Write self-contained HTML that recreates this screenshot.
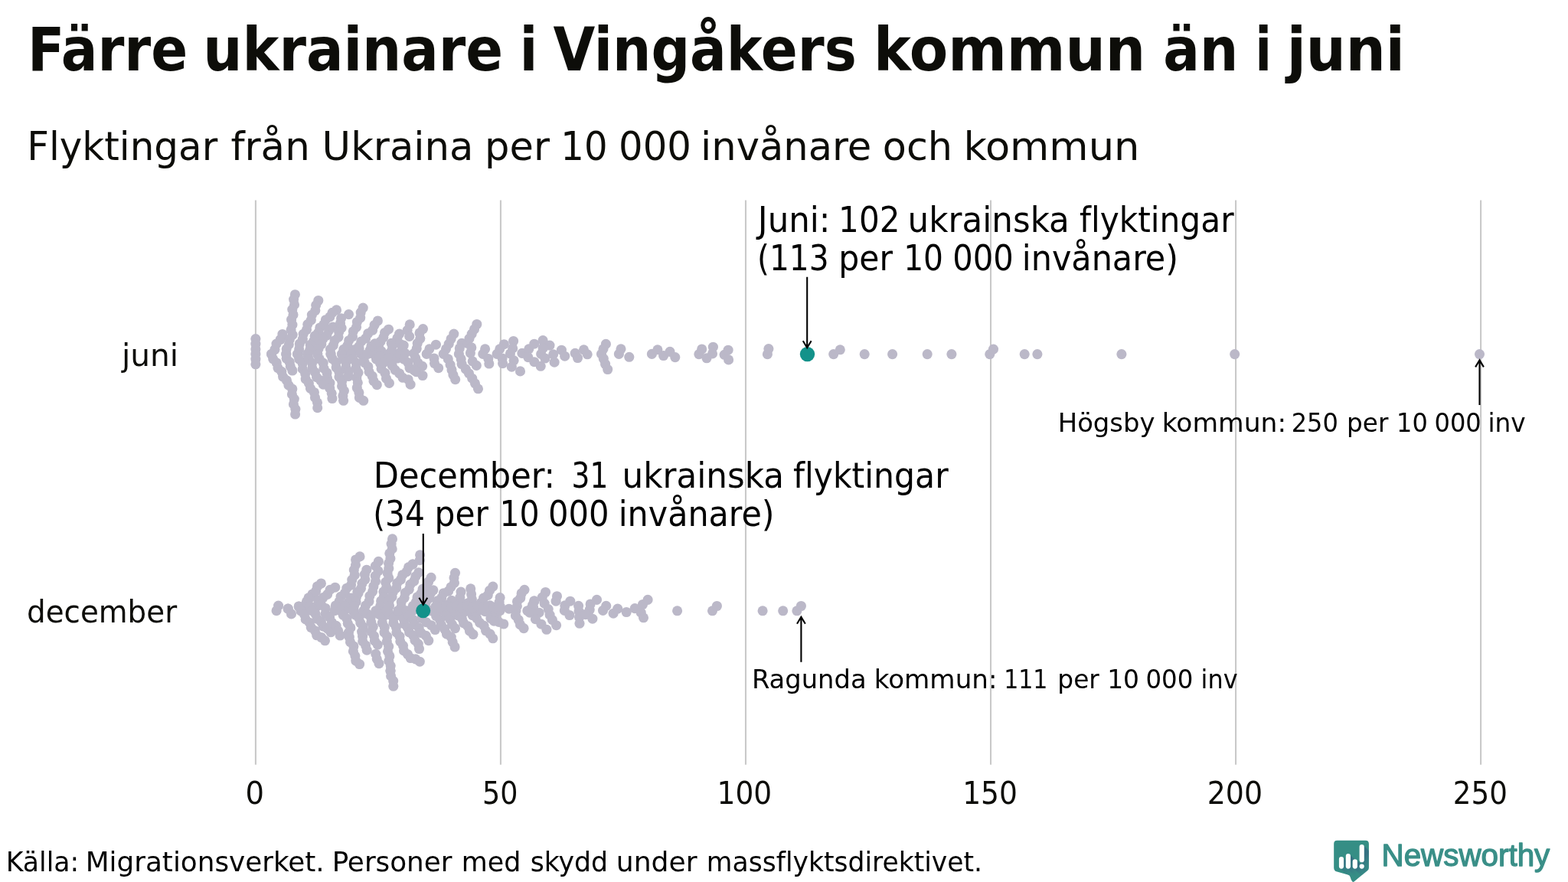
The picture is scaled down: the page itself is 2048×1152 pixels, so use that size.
<!DOCTYPE html>
<html lang="sv"><head><meta charset="utf-8"><title>Färre ukrainare i Vingåkers kommun än i juni</title>
<style>
html,body{margin:0;padding:0;background:#fff;}
body{width:2048px;height:1152px;overflow:hidden;}
svg{display:block;}
svg text{font-family:"DejaVu Sans Condensed","Liberation Sans",sans-serif;font-variant-ligatures:none;font-kerning:normal;}
</style></head>
<body>
<svg width="2048" height="1152" viewBox="0 0 2048 1152">
<rect width="2048" height="1152" fill="#fff"/>
<g stroke="#c9c9c9" stroke-width="2.1">
<line x1="333.90" x2="333.90" y1="261.5" y2="998.7"/>
<line x1="653.94" x2="653.94" y1="261.5" y2="998.7"/>
<line x1="973.98" x2="973.98" y1="261.5" y2="998.7"/>
<line x1="1294.02" x2="1294.02" y1="261.5" y2="998.7"/>
<line x1="1614.06" x2="1614.06" y1="261.5" y2="998.7"/>
<line x1="1934.10" x2="1934.10" y1="261.5" y2="998.7"/>
</g>
<g fill="#bbb8c8">
<circle cx="354.6" cy="462.5" r="6.55"/>
<circle cx="359.0" cy="456.5" r="6.55"/>
<circle cx="361.0" cy="449.1" r="6.55"/>
<circle cx="366.2" cy="443.5" r="6.55"/>
<circle cx="368.9" cy="436.5" r="6.55"/>
<circle cx="385.4" cy="384.7" r="6.55"/>
<circle cx="383.6" cy="391.1" r="6.55"/>
<circle cx="384.5" cy="397.9" r="6.55"/>
<circle cx="381.8" cy="404.2" r="6.55"/>
<circle cx="383.0" cy="411.0" r="6.55"/>
<circle cx="380.6" cy="417.5" r="6.55"/>
<circle cx="381.9" cy="424.2" r="6.55"/>
<circle cx="380.1" cy="430.8" r="6.55"/>
<circle cx="382.2" cy="437.3" r="6.55"/>
<circle cx="378.4" cy="443.1" r="6.55"/>
<circle cx="377.3" cy="449.9" r="6.55"/>
<circle cx="374.2" cy="455.8" r="6.55"/>
<circle cx="373.8" cy="462.5" r="6.55"/>
<circle cx="415.8" cy="392.5" r="6.55"/>
<circle cx="412.7" cy="398.6" r="6.55"/>
<circle cx="411.8" cy="405.6" r="6.55"/>
<circle cx="407.4" cy="411.2" r="6.55"/>
<circle cx="406.3" cy="418.2" r="6.55"/>
<circle cx="401.8" cy="423.6" r="6.55"/>
<circle cx="400.5" cy="430.6" r="6.55"/>
<circle cx="396.2" cy="436.2" r="6.55"/>
<circle cx="395.3" cy="443.2" r="6.55"/>
<circle cx="391.3" cy="449.0" r="6.55"/>
<circle cx="390.7" cy="455.9" r="6.55"/>
<circle cx="388.6" cy="462.5" r="6.55"/>
<circle cx="439.5" cy="404.9" r="6.55"/>
<circle cx="434.1" cy="408.3" r="6.55"/>
<circle cx="430.8" cy="413.9" r="6.55"/>
<circle cx="425.4" cy="417.7" r="6.55"/>
<circle cx="422.8" cy="423.8" r="6.55"/>
<circle cx="417.8" cy="428.0" r="6.55"/>
<circle cx="415.8" cy="434.3" r="6.55"/>
<circle cx="411.1" cy="438.9" r="6.55"/>
<circle cx="409.7" cy="445.3" r="6.55"/>
<circle cx="405.3" cy="450.3" r="6.55"/>
<circle cx="404.7" cy="456.9" r="6.55"/>
<circle cx="401.6" cy="462.5" r="6.55"/>
<circle cx="434.8" cy="427.0" r="6.55"/>
<circle cx="429.6" cy="431.5" r="6.55"/>
<circle cx="426.9" cy="438.1" r="6.55"/>
<circle cx="421.6" cy="442.9" r="6.55"/>
<circle cx="419.8" cy="449.6" r="6.55"/>
<circle cx="416.0" cy="455.7" r="6.55"/>
<circle cx="414.7" cy="462.5" r="6.55"/>
<circle cx="445.6" cy="415.7" r="6.55"/>
<circle cx="444.5" cy="422.0" r="6.55"/>
<circle cx="446.1" cy="428.3" r="6.55"/>
<circle cx="442.7" cy="433.8" r="6.55"/>
<circle cx="442.0" cy="440.3" r="6.55"/>
<circle cx="437.1" cy="444.8" r="6.55"/>
<circle cx="435.3" cy="451.1" r="6.55"/>
<circle cx="431.5" cy="456.2" r="6.55"/>
<circle cx="432.0" cy="462.5" r="6.55"/>
<circle cx="455.5" cy="410.6" r="6.55"/>
<circle cx="474.2" cy="402.1" r="6.55"/>
<circle cx="471.2" cy="408.1" r="6.55"/>
<circle cx="470.7" cy="415.1" r="6.55"/>
<circle cx="466.4" cy="420.5" r="6.55"/>
<circle cx="465.5" cy="427.3" r="6.55"/>
<circle cx="461.3" cy="432.8" r="6.55"/>
<circle cx="460.5" cy="439.7" r="6.55"/>
<circle cx="455.7" cy="444.7" r="6.55"/>
<circle cx="453.8" cy="451.3" r="6.55"/>
<circle cx="448.9" cy="456.2" r="6.55"/>
<circle cx="446.6" cy="462.5" r="6.55"/>
<circle cx="493.4" cy="419.0" r="6.55"/>
<circle cx="489.1" cy="424.5" r="6.55"/>
<circle cx="486.6" cy="431.3" r="6.55"/>
<circle cx="480.8" cy="435.5" r="6.55"/>
<circle cx="477.6" cy="442.0" r="6.55"/>
<circle cx="471.7" cy="446.0" r="6.55"/>
<circle cx="468.7" cy="452.6" r="6.55"/>
<circle cx="462.9" cy="456.8" r="6.55"/>
<circle cx="458.8" cy="462.5" r="6.55"/>
<circle cx="507.5" cy="430.2" r="6.55"/>
<circle cx="502.6" cy="434.5" r="6.55"/>
<circle cx="500.8" cy="440.7" r="6.55"/>
<circle cx="497.0" cy="446.1" r="6.55"/>
<circle cx="494.6" cy="452.0" r="6.55"/>
<circle cx="489.4" cy="456.1" r="6.55"/>
<circle cx="488.8" cy="462.5" r="6.55"/>
<circle cx="354.6" cy="462.5" r="6.55"/>
<circle cx="356.7" cy="468.8" r="6.55"/>
<circle cx="361.3" cy="473.9" r="6.55"/>
<circle cx="363.0" cy="480.6" r="6.55"/>
<circle cx="367.8" cy="485.4" r="6.55"/>
<circle cx="369.6" cy="492.1" r="6.55"/>
<circle cx="374.5" cy="496.9" r="6.55"/>
<circle cx="377.0" cy="503.2" r="6.55"/>
<circle cx="381.8" cy="508.0" r="6.55"/>
<circle cx="381.4" cy="514.9" r="6.55"/>
<circle cx="384.3" cy="521.1" r="6.55"/>
<circle cx="383.4" cy="527.9" r="6.55"/>
<circle cx="385.9" cy="534.3" r="6.55"/>
<circle cx="385.6" cy="541.0" r="6.55"/>
<circle cx="373.8" cy="462.5" r="6.55"/>
<circle cx="374.2" cy="468.3" r="6.55"/>
<circle cx="378.3" cy="472.9" r="6.55"/>
<circle cx="379.3" cy="478.7" r="6.55"/>
<circle cx="381.9" cy="484.0" r="6.55"/>
<circle cx="388.6" cy="462.5" r="6.55"/>
<circle cx="390.7" cy="469.1" r="6.55"/>
<circle cx="395.2" cy="474.8" r="6.55"/>
<circle cx="395.2" cy="481.9" r="6.55"/>
<circle cx="398.7" cy="488.0" r="6.55"/>
<circle cx="399.2" cy="495.1" r="6.55"/>
<circle cx="403.4" cy="500.6" r="6.55"/>
<circle cx="405.5" cy="507.4" r="6.55"/>
<circle cx="410.4" cy="512.5" r="6.55"/>
<circle cx="411.5" cy="519.4" r="6.55"/>
<circle cx="414.5" cy="525.8" r="6.55"/>
<circle cx="414.7" cy="532.7" r="6.55"/>
<circle cx="401.6" cy="462.5" r="6.55"/>
<circle cx="403.4" cy="468.8" r="6.55"/>
<circle cx="407.6" cy="474.1" r="6.55"/>
<circle cx="407.8" cy="480.8" r="6.55"/>
<circle cx="411.4" cy="486.2" r="6.55"/>
<circle cx="413.5" cy="492.6" r="6.55"/>
<circle cx="418.7" cy="496.8" r="6.55"/>
<circle cx="422.2" cy="502.2" r="6.55"/>
<circle cx="414.7" cy="462.5" r="6.55"/>
<circle cx="417.3" cy="468.9" r="6.55"/>
<circle cx="422.2" cy="474.1" r="6.55"/>
<circle cx="423.0" cy="481.2" r="6.55"/>
<circle cx="427.1" cy="487.0" r="6.55"/>
<circle cx="427.6" cy="494.0" r="6.55"/>
<circle cx="430.9" cy="500.2" r="6.55"/>
<circle cx="430.7" cy="507.2" r="6.55"/>
<circle cx="433.2" cy="513.8" r="6.55"/>
<circle cx="433.9" cy="520.5" r="6.55"/>
<circle cx="432.0" cy="462.5" r="6.55"/>
<circle cx="434.2" cy="468.6" r="6.55"/>
<circle cx="438.8" cy="473.4" r="6.55"/>
<circle cx="439.2" cy="480.1" r="6.55"/>
<circle cx="442.9" cy="485.7" r="6.55"/>
<circle cx="443.0" cy="492.3" r="6.55"/>
<circle cx="446.6" cy="497.9" r="6.55"/>
<circle cx="446.6" cy="504.4" r="6.55"/>
<circle cx="449.4" cy="510.5" r="6.55"/>
<circle cx="447.9" cy="516.9" r="6.55"/>
<circle cx="448.6" cy="523.3" r="6.55"/>
<circle cx="446.6" cy="462.5" r="6.55"/>
<circle cx="448.0" cy="468.5" r="6.55"/>
<circle cx="451.9" cy="473.4" r="6.55"/>
<circle cx="452.0" cy="479.8" r="6.55"/>
<circle cx="455.2" cy="485.3" r="6.55"/>
<circle cx="455.0" cy="491.5" r="6.55"/>
<circle cx="458.8" cy="462.5" r="6.55"/>
<circle cx="460.8" cy="468.8" r="6.55"/>
<circle cx="465.3" cy="474.0" r="6.55"/>
<circle cx="464.9" cy="480.8" r="6.55"/>
<circle cx="468.0" cy="486.8" r="6.55"/>
<circle cx="465.8" cy="493.4" r="6.55"/>
<circle cx="467.3" cy="499.8" r="6.55"/>
<circle cx="466.3" cy="506.5" r="6.55"/>
<circle cx="468.9" cy="512.8" r="6.55"/>
<circle cx="469.4" cy="519.4" r="6.55"/>
<circle cx="474.7" cy="523.3" r="6.55"/>
<circle cx="469.1" cy="455.4" r="6.55"/>
<circle cx="471.0" cy="461.8" r="6.55"/>
<circle cx="475.3" cy="467.1" r="6.55"/>
<circle cx="476.4" cy="473.8" r="6.55"/>
<circle cx="480.9" cy="479.0" r="6.55"/>
<circle cx="482.1" cy="485.7" r="6.55"/>
<circle cx="486.2" cy="491.2" r="6.55"/>
<circle cx="488.0" cy="497.7" r="6.55"/>
<circle cx="492.3" cy="502.7" r="6.55"/>
<circle cx="488.8" cy="462.5" r="6.55"/>
<circle cx="491.5" cy="469.1" r="6.55"/>
<circle cx="496.5" cy="474.5" r="6.55"/>
<circle cx="498.1" cy="481.7" r="6.55"/>
<circle cx="502.9" cy="487.2" r="6.55"/>
<circle cx="504.5" cy="494.4" r="6.55"/>
<circle cx="508.4" cy="500.4" r="6.55"/>
<circle cx="521.6" cy="436.1" r="6.55"/>
<circle cx="518.9" cy="441.6" r="6.55"/>
<circle cx="517.3" cy="447.5" r="6.55"/>
<circle cx="512.5" cy="451.6" r="6.55"/>
<circle cx="511.6" cy="457.9" r="6.55"/>
<circle cx="507.5" cy="462.5" r="6.55"/>
<circle cx="511.2" cy="448.3" r="6.55"/>
<circle cx="522.5" cy="449.2" r="6.55"/>
<circle cx="527.2" cy="451.1" r="6.55"/>
<circle cx="510.3" cy="460.5" r="6.55"/>
<circle cx="522.5" cy="460.5" r="6.55"/>
<circle cx="529.1" cy="461.4" r="6.55"/>
<circle cx="498.1" cy="458.6" r="6.55"/>
<circle cx="496.2" cy="465.2" r="6.55"/>
<circle cx="507.5" cy="468.0" r="6.55"/>
<circle cx="518.8" cy="468.0" r="6.55"/>
<circle cx="500.9" cy="473.6" r="6.55"/>
<circle cx="552.5" cy="429.6" r="6.55"/>
<circle cx="548.0" cy="434.9" r="6.55"/>
<circle cx="548.8" cy="442.3" r="6.55"/>
<circle cx="545.2" cy="448.5" r="6.55"/>
<circle cx="544.2" cy="455.5" r="6.55"/>
<circle cx="540.5" cy="461.7" r="6.55"/>
<circle cx="542.7" cy="467.6" r="6.55"/>
<circle cx="546.0" cy="474.0" r="6.55"/>
<circle cx="551.6" cy="478.3" r="6.55"/>
<circle cx="544.1" cy="485.8" r="6.55"/>
<circle cx="552.0" cy="490.5" r="6.55"/>
<circle cx="512.2" cy="477.4" r="6.55"/>
<circle cx="516.2" cy="483.3" r="6.55"/>
<circle cx="521.8" cy="487.9" r="6.55"/>
<circle cx="526.1" cy="493.3" r="6.55"/>
<circle cx="533.2" cy="495.7" r="6.55"/>
<circle cx="536.1" cy="502.2" r="6.55"/>
<circle cx="522.5" cy="464.2" r="6.55"/>
<circle cx="527.5" cy="469.2" r="6.55"/>
<circle cx="532.9" cy="473.6" r="6.55"/>
<circle cx="535.0" cy="480.6" r="6.55"/>
<circle cx="541.2" cy="483.9" r="6.55"/>
<circle cx="489.7" cy="448.8" r="6.55"/>
<circle cx="484.9" cy="452.0" r="6.55"/>
<circle cx="483.1" cy="457.4" r="6.55"/>
<circle cx="480.3" cy="462.4" r="6.55"/>
<circle cx="569.4" cy="450.2" r="6.55"/>
<circle cx="560.9" cy="455.8" r="6.55"/>
<circle cx="557.2" cy="462.4" r="6.55"/>
<circle cx="567.0" cy="468.0" r="6.55"/>
<circle cx="567.5" cy="474.6" r="6.55"/>
<circle cx="572.7" cy="480.7" r="6.55"/>
<circle cx="592.8" cy="436.1" r="6.55"/>
<circle cx="589.1" cy="442.7" r="6.55"/>
<circle cx="586.2" cy="449.2" r="6.55"/>
<circle cx="582.5" cy="455.8" r="6.55"/>
<circle cx="579.2" cy="462.4" r="6.55"/>
<circle cx="585.3" cy="468.9" r="6.55"/>
<circle cx="588.1" cy="476.4" r="6.55"/>
<circle cx="590.0" cy="483.0" r="6.55"/>
<circle cx="591.9" cy="489.6" r="6.55"/>
<circle cx="594.7" cy="495.7" r="6.55"/>
<circle cx="535.2" cy="423.9" r="6.55"/>
<circle cx="532.1" cy="431.4" r="6.55"/>
<circle cx="534.7" cy="439.4" r="6.55"/>
<circle cx="622.8" cy="423.5" r="6.55"/>
<circle cx="619.5" cy="430.0" r="6.55"/>
<circle cx="616.2" cy="436.1" r="6.55"/>
<circle cx="613.0" cy="442.2" r="6.55"/>
<circle cx="610.2" cy="448.3" r="6.55"/>
<circle cx="603.1" cy="448.3" r="6.55"/>
<circle cx="600.3" cy="454.9" r="6.55"/>
<circle cx="599.4" cy="462.4" r="6.55"/>
<circle cx="602.2" cy="468.9" r="6.55"/>
<circle cx="603.1" cy="475.5" r="6.55"/>
<circle cx="608.3" cy="482.1" r="6.55"/>
<circle cx="612.5" cy="487.7" r="6.55"/>
<circle cx="616.7" cy="494.2" r="6.55"/>
<circle cx="620.5" cy="500.8" r="6.55"/>
<circle cx="624.5" cy="507.8" r="6.55"/>
<circle cx="615.8" cy="453.9" r="6.55"/>
<circle cx="614.4" cy="461.0" r="6.55"/>
<circle cx="617.2" cy="471.8" r="6.55"/>
<circle cx="622.3" cy="477.4" r="6.55"/>
<circle cx="633.6" cy="455.8" r="6.55"/>
<circle cx="630.8" cy="462.4" r="6.55"/>
<circle cx="637.8" cy="468.5" r="6.55"/>
<circle cx="638.8" cy="475.0" r="6.55"/>
<circle cx="658.4" cy="449.7" r="6.55"/>
<circle cx="652.8" cy="455.8" r="6.55"/>
<circle cx="649.1" cy="462.4" r="6.55"/>
<circle cx="656.1" cy="468.0" r="6.55"/>
<circle cx="656.6" cy="474.6" r="6.55"/>
<circle cx="670.6" cy="445.5" r="6.55"/>
<circle cx="669.7" cy="454.9" r="6.55"/>
<circle cx="666.4" cy="461.9" r="6.55"/>
<circle cx="671.1" cy="470.8" r="6.55"/>
<circle cx="668.3" cy="479.2" r="6.55"/>
<circle cx="679.5" cy="484.9" r="6.55"/>
<circle cx="681.9" cy="461.4" r="6.55"/>
<circle cx="690.8" cy="455.8" r="6.55"/>
<circle cx="697.8" cy="449.2" r="6.55"/>
<circle cx="709.1" cy="444.6" r="6.55"/>
<circle cx="718.0" cy="451.1" r="6.55"/>
<circle cx="689.8" cy="466.6" r="6.55"/>
<circle cx="697.8" cy="472.7" r="6.55"/>
<circle cx="706.2" cy="478.3" r="6.55"/>
<circle cx="706.7" cy="462.4" r="6.55"/>
<circle cx="709.1" cy="454.9" r="6.55"/>
<circle cx="711.9" cy="468.0" r="6.55"/>
<circle cx="722.7" cy="462.8" r="6.55"/>
<circle cx="724.1" cy="473.2" r="6.55"/>
<circle cx="733.4" cy="457.2" r="6.55"/>
<circle cx="737.7" cy="465.2" r="6.55"/>
<circle cx="751.2" cy="461.4" r="6.55"/>
<circle cx="754.5" cy="467.5" r="6.55"/>
<circle cx="762.5" cy="456.8" r="6.55"/>
<circle cx="767.2" cy="462.8" r="6.55"/>
<circle cx="791.4" cy="449.4" r="6.55"/>
<circle cx="788.0" cy="455.8" r="6.55"/>
<circle cx="785.5" cy="462.4" r="6.55"/>
<circle cx="788.3" cy="468.5" r="6.55"/>
<circle cx="790.6" cy="475.5" r="6.55"/>
<circle cx="793.7" cy="482.5" r="6.55"/>
<circle cx="811.0" cy="455.8" r="6.55"/>
<circle cx="808.4" cy="462.4" r="6.55"/>
<circle cx="821.8" cy="466.3" r="6.55"/>
<circle cx="851.4" cy="462.4" r="6.55"/>
<circle cx="858.9" cy="456.8" r="6.55"/>
<circle cx="866.6" cy="464.5" r="6.55"/>
<circle cx="875.0" cy="459.4" r="6.55"/>
<circle cx="881.8" cy="466.6" r="6.55"/>
<circle cx="912.9" cy="462.6" r="6.55"/>
<circle cx="916.7" cy="456.0" r="6.55"/>
<circle cx="923.0" cy="467.8" r="6.55"/>
<circle cx="931.4" cy="453.2" r="6.55"/>
<circle cx="930.5" cy="461.9" r="6.55"/>
<circle cx="946.1" cy="463.3" r="6.55"/>
<circle cx="951.1" cy="457.2" r="6.55"/>
<circle cx="951.6" cy="469.9" r="6.55"/>
<circle cx="1002.4" cy="462.7" r="6.55"/>
<circle cx="1003.9" cy="455.6" r="6.55"/>
<circle cx="333.9" cy="442.6" r="6.55"/>
<circle cx="333.9" cy="449.2" r="6.55"/>
<circle cx="333.9" cy="455.9" r="6.55"/>
<circle cx="333.9" cy="462.5" r="6.55"/>
<circle cx="333.9" cy="469.1" r="6.55"/>
<circle cx="333.9" cy="475.8" r="6.55"/>
<circle cx="1088.7" cy="462.6" r="6.55"/>
<circle cx="1097.3" cy="456.8" r="6.55"/>
<circle cx="1129.2" cy="462.6" r="6.55"/>
<circle cx="1165.6" cy="462.6" r="6.55"/>
<circle cx="1211.2" cy="462.6" r="6.55"/>
<circle cx="1242.9" cy="462.6" r="6.55"/>
<circle cx="1292.8" cy="462.6" r="6.55"/>
<circle cx="1297.5" cy="456.1" r="6.55"/>
<circle cx="1338.2" cy="462.6" r="6.55"/>
<circle cx="1354.9" cy="462.6" r="6.55"/>
<circle cx="1464.9" cy="462.6" r="6.55"/>
<circle cx="1612.7" cy="462.6" r="6.55"/>
<circle cx="1932.5" cy="462.6" r="6.55"/>
<circle cx="363.6" cy="791.1" r="6.55"/>
<circle cx="361.1" cy="797.7" r="6.55"/>
<circle cx="376.2" cy="795.1" r="6.55"/>
<circle cx="390.3" cy="792.0" r="6.55"/>
<circle cx="395.0" cy="798.1" r="6.55"/>
<circle cx="419.4" cy="762.0" r="6.55"/>
<circle cx="414.5" cy="765.9" r="6.55"/>
<circle cx="412.6" cy="772.0" r="6.55"/>
<circle cx="408.0" cy="776.0" r="6.55"/>
<circle cx="404.2" cy="781.2" r="6.55"/>
<circle cx="400.4" cy="785.8" r="6.55"/>
<circle cx="399.9" cy="792.2" r="6.55"/>
<circle cx="396.9" cy="797.7" r="6.55"/>
<circle cx="437.7" cy="767.2" r="6.55"/>
<circle cx="431.2" cy="770.2" r="6.55"/>
<circle cx="427.6" cy="776.4" r="6.55"/>
<circle cx="422.0" cy="780.6" r="6.55"/>
<circle cx="417.8" cy="786.0" r="6.55"/>
<circle cx="413.9" cy="792.1" r="6.55"/>
<circle cx="410.0" cy="797.7" r="6.55"/>
<circle cx="470.0" cy="726.9" r="6.55"/>
<circle cx="464.6" cy="731.0" r="6.55"/>
<circle cx="464.5" cy="737.8" r="6.55"/>
<circle cx="462.3" cy="744.4" r="6.55"/>
<circle cx="463.2" cy="751.2" r="6.55"/>
<circle cx="459.8" cy="757.2" r="6.55"/>
<circle cx="458.5" cy="764.2" r="6.55"/>
<circle cx="452.9" cy="768.2" r="6.55"/>
<circle cx="450.4" cy="774.7" r="6.55"/>
<circle cx="445.1" cy="779.2" r="6.55"/>
<circle cx="442.9" cy="785.8" r="6.55"/>
<circle cx="438.3" cy="791.0" r="6.55"/>
<circle cx="437.2" cy="797.7" r="6.55"/>
<circle cx="478.9" cy="744.2" r="6.55"/>
<circle cx="476.4" cy="750.2" r="6.55"/>
<circle cx="476.9" cy="756.8" r="6.55"/>
<circle cx="472.9" cy="762.1" r="6.55"/>
<circle cx="471.5" cy="768.6" r="6.55"/>
<circle cx="466.8" cy="773.4" r="6.55"/>
<circle cx="465.1" cy="780.2" r="6.55"/>
<circle cx="458.5" cy="781.1" r="6.55"/>
<circle cx="455.3" cy="786.4" r="6.55"/>
<circle cx="450.9" cy="791.4" r="6.55"/>
<circle cx="449.4" cy="797.7" r="6.55"/>
<circle cx="468.1" cy="774.7" r="6.55"/>
<circle cx="465.2" cy="780.0" r="6.55"/>
<circle cx="465.1" cy="786.0" r="6.55"/>
<circle cx="462.5" cy="791.6" r="6.55"/>
<circle cx="462.5" cy="797.7" r="6.55"/>
<circle cx="494.4" cy="733.4" r="6.55"/>
<circle cx="490.5" cy="739.2" r="6.55"/>
<circle cx="494.1" cy="745.8" r="6.55"/>
<circle cx="490.3" cy="752.2" r="6.55"/>
<circle cx="490.5" cy="759.3" r="6.55"/>
<circle cx="487.9" cy="765.9" r="6.55"/>
<circle cx="486.6" cy="772.6" r="6.55"/>
<circle cx="482.9" cy="778.5" r="6.55"/>
<circle cx="482.0" cy="785.5" r="6.55"/>
<circle cx="477.5" cy="791.0" r="6.55"/>
<circle cx="475.6" cy="797.7" r="6.55"/>
<circle cx="512.5" cy="703.9" r="6.55"/>
<circle cx="511.1" cy="710.3" r="6.55"/>
<circle cx="512.2" cy="716.9" r="6.55"/>
<circle cx="508.8" cy="722.8" r="6.55"/>
<circle cx="509.9" cy="729.5" r="6.55"/>
<circle cx="507.6" cy="735.8" r="6.55"/>
<circle cx="507.8" cy="742.4" r="6.55"/>
<circle cx="506.1" cy="748.6" r="6.55"/>
<circle cx="507.8" cy="754.9" r="6.55"/>
<circle cx="503.7" cy="760.4" r="6.55"/>
<circle cx="504.7" cy="767.0" r="6.55"/>
<circle cx="500.9" cy="772.8" r="6.55"/>
<circle cx="501.3" cy="779.5" r="6.55"/>
<circle cx="497.6" cy="785.0" r="6.55"/>
<circle cx="496.7" cy="791.6" r="6.55"/>
<circle cx="494.4" cy="797.7" r="6.55"/>
<circle cx="538.9" cy="737.2" r="6.55"/>
<circle cx="533.6" cy="740.8" r="6.55"/>
<circle cx="531.0" cy="746.9" r="6.55"/>
<circle cx="525.7" cy="750.9" r="6.55"/>
<circle cx="523.4" cy="757.0" r="6.55"/>
<circle cx="518.7" cy="761.6" r="6.55"/>
<circle cx="517.6" cy="768.2" r="6.55"/>
<circle cx="513.3" cy="773.2" r="6.55"/>
<circle cx="512.1" cy="779.7" r="6.55"/>
<circle cx="508.2" cy="784.9" r="6.55"/>
<circle cx="508.5" cy="791.5" r="6.55"/>
<circle cx="506.6" cy="797.7" r="6.55"/>
<circle cx="376.2" cy="795.1" r="6.55"/>
<circle cx="380.5" cy="801.9" r="6.55"/>
<circle cx="390.3" cy="792.0" r="6.55"/>
<circle cx="392.9" cy="797.9" r="6.55"/>
<circle cx="397.5" cy="802.5" r="6.55"/>
<circle cx="399.2" cy="808.9" r="6.55"/>
<circle cx="404.3" cy="813.2" r="6.55"/>
<circle cx="406.3" cy="819.5" r="6.55"/>
<circle cx="411.3" cy="823.7" r="6.55"/>
<circle cx="413.7" cy="829.8" r="6.55"/>
<circle cx="419.7" cy="832.5" r="6.55"/>
<circle cx="424.5" cy="836.8" r="6.55"/>
<circle cx="403.0" cy="780.8" r="6.55"/>
<circle cx="401.0" cy="786.8" r="6.55"/>
<circle cx="405.0" cy="791.7" r="6.55"/>
<circle cx="407.4" cy="797.7" r="6.55"/>
<circle cx="412.2" cy="802.0" r="6.55"/>
<circle cx="414.2" cy="808.3" r="6.55"/>
<circle cx="419.4" cy="812.1" r="6.55"/>
<circle cx="422.1" cy="818.1" r="6.55"/>
<circle cx="427.8" cy="821.2" r="6.55"/>
<circle cx="432.0" cy="825.8" r="6.55"/>
<circle cx="415.6" cy="784.1" r="6.55"/>
<circle cx="419.6" cy="789.8" r="6.55"/>
<circle cx="425.2" cy="794.5" r="6.55"/>
<circle cx="425.0" cy="801.6" r="6.55"/>
<circle cx="430.6" cy="806.4" r="6.55"/>
<circle cx="433.4" cy="813.0" r="6.55"/>
<circle cx="439.1" cy="817.3" r="6.55"/>
<circle cx="441.7" cy="824.0" r="6.55"/>
<circle cx="444.2" cy="830.0" r="6.55"/>
<circle cx="445.0" cy="797.7" r="6.55"/>
<circle cx="448.2" cy="803.3" r="6.55"/>
<circle cx="453.0" cy="807.9" r="6.55"/>
<circle cx="454.3" cy="814.3" r="6.55"/>
<circle cx="457.9" cy="819.9" r="6.55"/>
<circle cx="455.4" cy="826.2" r="6.55"/>
<circle cx="456.3" cy="832.2" r="6.55"/>
<circle cx="457.5" cy="838.7" r="6.55"/>
<circle cx="461.9" cy="844.0" r="6.55"/>
<circle cx="461.4" cy="850.7" r="6.55"/>
<circle cx="463.9" cy="856.8" r="6.55"/>
<circle cx="464.8" cy="863.1" r="6.55"/>
<circle cx="469.6" cy="867.5" r="6.55"/>
<circle cx="460.8" cy="797.7" r="6.55"/>
<circle cx="464.0" cy="803.2" r="6.55"/>
<circle cx="468.9" cy="807.4" r="6.55"/>
<circle cx="470.8" cy="813.7" r="6.55"/>
<circle cx="474.3" cy="818.9" r="6.55"/>
<circle cx="472.6" cy="825.1" r="6.55"/>
<circle cx="473.6" cy="831.2" r="6.55"/>
<circle cx="473.7" cy="837.7" r="6.55"/>
<circle cx="477.6" cy="843.0" r="6.55"/>
<circle cx="479.2" cy="849.2" r="6.55"/>
<circle cx="475.0" cy="797.7" r="6.55"/>
<circle cx="479.4" cy="801.6" r="6.55"/>
<circle cx="484.3" cy="806.0" r="6.55"/>
<circle cx="484.8" cy="812.7" r="6.55"/>
<circle cx="487.3" cy="818.6" r="6.55"/>
<circle cx="485.1" cy="825.0" r="6.55"/>
<circle cx="488.5" cy="830.7" r="6.55"/>
<circle cx="489.4" cy="837.1" r="6.55"/>
<circle cx="493.3" cy="842.1" r="6.55"/>
<circle cx="490.8" cy="854.2" r="6.55"/>
<circle cx="492.2" cy="860.6" r="6.55"/>
<circle cx="495.0" cy="866.7" r="6.55"/>
<circle cx="490.8" cy="797.7" r="6.55"/>
<circle cx="495.2" cy="802.3" r="6.55"/>
<circle cx="499.8" cy="806.7" r="6.55"/>
<circle cx="499.3" cy="813.5" r="6.55"/>
<circle cx="502.3" cy="819.4" r="6.55"/>
<circle cx="502.0" cy="826.1" r="6.55"/>
<circle cx="505.8" cy="831.5" r="6.55"/>
<circle cx="505.3" cy="838.1" r="6.55"/>
<circle cx="507.7" cy="844.3" r="6.55"/>
<circle cx="506.5" cy="850.8" r="6.55"/>
<circle cx="508.9" cy="856.9" r="6.55"/>
<circle cx="507.8" cy="863.4" r="6.55"/>
<circle cx="510.2" cy="869.6" r="6.55"/>
<circle cx="510.0" cy="876.0" r="6.55"/>
<circle cx="505.0" cy="797.7" r="6.55"/>
<circle cx="509.0" cy="802.8" r="6.55"/>
<circle cx="514.0" cy="807.0" r="6.55"/>
<circle cx="513.9" cy="813.7" r="6.55"/>
<circle cx="517.4" cy="819.3" r="6.55"/>
<circle cx="517.9" cy="826.0" r="6.55"/>
<circle cx="522.0" cy="831.2" r="6.55"/>
<circle cx="522.8" cy="837.8" r="6.55"/>
<circle cx="526.5" cy="843.3" r="6.55"/>
<circle cx="527.5" cy="849.9" r="6.55"/>
<circle cx="532.4" cy="854.5" r="6.55"/>
<circle cx="536.2" cy="859.5" r="6.55"/>
<circle cx="542.8" cy="860.9" r="6.55"/>
<circle cx="548.3" cy="864.2" r="6.55"/>
<circle cx="520.0" cy="797.7" r="6.55"/>
<circle cx="522.5" cy="803.6" r="6.55"/>
<circle cx="527.2" cy="808.3" r="6.55"/>
<circle cx="528.0" cy="814.9" r="6.55"/>
<circle cx="532.3" cy="819.7" r="6.55"/>
<circle cx="534.6" cy="825.9" r="6.55"/>
<circle cx="539.8" cy="830.0" r="6.55"/>
<circle cx="542.0" cy="836.3" r="6.55"/>
<circle cx="546.3" cy="841.1" r="6.55"/>
<circle cx="547.5" cy="847.5" r="6.55"/>
<circle cx="510.0" cy="876.0" r="6.55"/>
<circle cx="510.6" cy="882.9" r="6.55"/>
<circle cx="513.7" cy="889.4" r="6.55"/>
<circle cx="513.8" cy="896.3" r="6.55"/>
<circle cx="548.6" cy="724.8" r="6.55"/>
<circle cx="548.3" cy="731.7" r="6.55"/>
<circle cx="539.2" cy="736.8" r="6.55"/>
<circle cx="546.7" cy="747.8" r="6.55"/>
<circle cx="542.8" cy="752.9" r="6.55"/>
<circle cx="540.7" cy="759.0" r="6.55"/>
<circle cx="535.9" cy="763.4" r="6.55"/>
<circle cx="534.3" cy="769.8" r="6.55"/>
<circle cx="529.4" cy="774.2" r="6.55"/>
<circle cx="528.2" cy="780.8" r="6.55"/>
<circle cx="524.2" cy="786.0" r="6.55"/>
<circle cx="524.1" cy="792.6" r="6.55"/>
<circle cx="520.0" cy="797.7" r="6.55"/>
<circle cx="563.1" cy="754.4" r="6.55"/>
<circle cx="559.7" cy="759.7" r="6.55"/>
<circle cx="557.4" cy="765.7" r="6.55"/>
<circle cx="552.1" cy="769.4" r="6.55"/>
<circle cx="549.8" cy="775.5" r="6.55"/>
<circle cx="545.0" cy="779.9" r="6.55"/>
<circle cx="543.5" cy="786.2" r="6.55"/>
<circle cx="539.4" cy="791.4" r="6.55"/>
<circle cx="538.8" cy="797.7" r="6.55"/>
<circle cx="565.9" cy="770.8" r="6.55"/>
<circle cx="562.1" cy="775.4" r="6.55"/>
<circle cx="560.7" cy="781.4" r="6.55"/>
<circle cx="556.4" cy="785.9" r="6.55"/>
<circle cx="555.6" cy="791.9" r="6.55"/>
<circle cx="594.5" cy="748.3" r="6.55"/>
<circle cx="593.0" cy="754.7" r="6.55"/>
<circle cx="593.4" cy="761.3" r="6.55"/>
<circle cx="589.0" cy="766.7" r="6.55"/>
<circle cx="585.7" cy="772.1" r="6.55"/>
<circle cx="579.3" cy="774.7" r="6.55"/>
<circle cx="576.7" cy="780.9" r="6.55"/>
<circle cx="571.3" cy="784.9" r="6.55"/>
<circle cx="570.4" cy="791.6" r="6.55"/>
<circle cx="567.8" cy="797.7" r="6.55"/>
<circle cx="602.0" cy="773.1" r="6.55"/>
<circle cx="600.8" cy="780.3" r="6.55"/>
<circle cx="601.4" cy="787.8" r="6.55"/>
<circle cx="598.8" cy="794.7" r="6.55"/>
<circle cx="589.8" cy="784.4" r="6.55"/>
<circle cx="584.3" cy="790.0" r="6.55"/>
<circle cx="581.9" cy="797.7" r="6.55"/>
<circle cx="614.7" cy="768.9" r="6.55"/>
<circle cx="615.6" cy="776.0" r="6.55"/>
<circle cx="616.4" cy="782.7" r="6.55"/>
<circle cx="611.0" cy="787.7" r="6.55"/>
<circle cx="609.5" cy="794.7" r="6.55"/>
<circle cx="643.8" cy="766.1" r="6.55"/>
<circle cx="639.6" cy="771.2" r="6.55"/>
<circle cx="637.2" cy="777.4" r="6.55"/>
<circle cx="631.6" cy="781.1" r="6.55"/>
<circle cx="628.4" cy="787.1" r="6.55"/>
<circle cx="622.9" cy="791.2" r="6.55"/>
<circle cx="621.7" cy="797.7" r="6.55"/>
<circle cx="640.0" cy="790.9" r="6.55"/>
<circle cx="635.3" cy="797.7" r="6.55"/>
<circle cx="653.1" cy="780.6" r="6.55"/>
<circle cx="652.1" cy="786.3" r="6.55"/>
<circle cx="653.3" cy="792.1" r="6.55"/>
<circle cx="651.7" cy="797.7" r="6.55"/>
<circle cx="664.8" cy="795.2" r="6.55"/>
<circle cx="685.0" cy="770.3" r="6.55"/>
<circle cx="681.1" cy="775.0" r="6.55"/>
<circle cx="679.8" cy="781.1" r="6.55"/>
<circle cx="675.5" cy="785.7" r="6.55"/>
<circle cx="675.4" cy="791.8" r="6.55"/>
<circle cx="673.8" cy="797.7" r="6.55"/>
<circle cx="697.7" cy="784.8" r="6.55"/>
<circle cx="695.7" cy="790.1" r="6.55"/>
<circle cx="693.7" cy="795.0" r="6.55"/>
<circle cx="688.8" cy="797.7" r="6.55"/>
<circle cx="531.2" cy="797.7" r="6.55"/>
<circle cx="533.9" cy="804.1" r="6.55"/>
<circle cx="539.1" cy="809.0" r="6.55"/>
<circle cx="541.5" cy="815.7" r="6.55"/>
<circle cx="547.2" cy="820.1" r="6.55"/>
<circle cx="550.1" cy="826.7" r="6.55"/>
<circle cx="556.3" cy="830.4" r="6.55"/>
<circle cx="559.8" cy="836.6" r="6.55"/>
<circle cx="550.9" cy="807.5" r="6.55"/>
<circle cx="556.7" cy="812.7" r="6.55"/>
<circle cx="563.3" cy="816.7" r="6.55"/>
<circle cx="568.3" cy="822.5" r="6.55"/>
<circle cx="566.9" cy="798.1" r="6.55"/>
<circle cx="569.6" cy="804.5" r="6.55"/>
<circle cx="574.6" cy="809.5" r="6.55"/>
<circle cx="576.4" cy="816.3" r="6.55"/>
<circle cx="580.8" cy="821.8" r="6.55"/>
<circle cx="583.4" cy="828.1" r="6.55"/>
<circle cx="589.3" cy="832.1" r="6.55"/>
<circle cx="591.2" cy="838.7" r="6.55"/>
<circle cx="594.1" cy="845.0" r="6.55"/>
<circle cx="580.0" cy="798.1" r="6.55"/>
<circle cx="582.7" cy="804.3" r="6.55"/>
<circle cx="587.8" cy="808.9" r="6.55"/>
<circle cx="590.4" cy="815.4" r="6.55"/>
<circle cx="594.5" cy="820.6" r="6.55"/>
<circle cx="595.0" cy="798.1" r="6.55"/>
<circle cx="598.1" cy="803.8" r="6.55"/>
<circle cx="603.4" cy="807.8" r="6.55"/>
<circle cx="605.7" cy="813.9" r="6.55"/>
<circle cx="611.0" cy="817.9" r="6.55"/>
<circle cx="613.4" cy="824.1" r="6.55"/>
<circle cx="618.0" cy="828.6" r="6.55"/>
<circle cx="613.8" cy="797.7" r="6.55"/>
<circle cx="617.1" cy="803.6" r="6.55"/>
<circle cx="622.7" cy="807.5" r="6.55"/>
<circle cx="626.6" cy="813.3" r="6.55"/>
<circle cx="632.1" cy="817.3" r="6.55"/>
<circle cx="634.6" cy="823.8" r="6.55"/>
<circle cx="640.1" cy="828.1" r="6.55"/>
<circle cx="643.8" cy="833.8" r="6.55"/>
<circle cx="637.2" cy="797.7" r="6.55"/>
<circle cx="641.2" cy="803.2" r="6.55"/>
<circle cx="647.3" cy="806.7" r="6.55"/>
<circle cx="651.5" cy="812.4" r="6.55"/>
<circle cx="657.8" cy="815.0" r="6.55"/>
<circle cx="640.9" cy="807.5" r="6.55"/>
<circle cx="645.2" cy="811.2" r="6.55"/>
<circle cx="673.8" cy="797.7" r="6.55"/>
<circle cx="673.5" cy="804.2" r="6.55"/>
<circle cx="677.2" cy="809.5" r="6.55"/>
<circle cx="679.5" cy="815.9" r="6.55"/>
<circle cx="684.1" cy="820.6" r="6.55"/>
<circle cx="562.2" cy="797.7" r="6.55"/>
<circle cx="568.7" cy="798.6" r="6.55"/>
<circle cx="575.2" cy="796.8" r="6.55"/>
<circle cx="581.7" cy="798.6" r="6.55"/>
<circle cx="588.2" cy="796.8" r="6.55"/>
<circle cx="594.7" cy="798.6" r="6.55"/>
<circle cx="601.2" cy="796.8" r="6.55"/>
<circle cx="607.7" cy="798.6" r="6.55"/>
<circle cx="614.2" cy="796.8" r="6.55"/>
<circle cx="620.6" cy="798.6" r="6.55"/>
<circle cx="627.1" cy="796.8" r="6.55"/>
<circle cx="633.6" cy="798.6" r="6.55"/>
<circle cx="640.1" cy="796.8" r="6.55"/>
<circle cx="646.6" cy="798.6" r="6.55"/>
<circle cx="653.1" cy="797.7" r="6.55"/>
<circle cx="568.8" cy="792.5" r="6.55"/>
<circle cx="575.6" cy="793.4" r="6.55"/>
<circle cx="582.5" cy="791.6" r="6.55"/>
<circle cx="589.4" cy="793.4" r="6.55"/>
<circle cx="596.2" cy="791.6" r="6.55"/>
<circle cx="603.1" cy="793.4" r="6.55"/>
<circle cx="610.0" cy="791.6" r="6.55"/>
<circle cx="616.9" cy="793.4" r="6.55"/>
<circle cx="623.8" cy="791.6" r="6.55"/>
<circle cx="630.6" cy="793.4" r="6.55"/>
<circle cx="637.5" cy="791.6" r="6.55"/>
<circle cx="644.4" cy="793.4" r="6.55"/>
<circle cx="651.2" cy="792.5" r="6.55"/>
<circle cx="712.5" cy="773.5" r="6.55"/>
<circle cx="708.3" cy="780.1" r="6.55"/>
<circle cx="711.1" cy="788.1" r="6.55"/>
<circle cx="716.2" cy="795.6" r="6.55"/>
<circle cx="718.1" cy="803.1" r="6.55"/>
<circle cx="721.4" cy="809.6" r="6.55"/>
<circle cx="726.6" cy="816.7" r="6.55"/>
<circle cx="698.0" cy="785.2" r="6.55"/>
<circle cx="696.6" cy="792.8" r="6.55"/>
<circle cx="691.9" cy="800.2" r="6.55"/>
<circle cx="704.1" cy="800.2" r="6.55"/>
<circle cx="699.4" cy="808.7" r="6.55"/>
<circle cx="706.9" cy="815.2" r="6.55"/>
<circle cx="713.9" cy="822.3" r="6.55"/>
<circle cx="727.5" cy="778.7" r="6.55"/>
<circle cx="726.1" cy="785.2" r="6.55"/>
<circle cx="744.8" cy="785.2" r="6.55"/>
<circle cx="737.8" cy="790.9" r="6.55"/>
<circle cx="737.3" cy="797.4" r="6.55"/>
<circle cx="743.9" cy="803.5" r="6.55"/>
<circle cx="755.6" cy="791.3" r="6.55"/>
<circle cx="756.1" cy="798.4" r="6.55"/>
<circle cx="756.6" cy="806.3" r="6.55"/>
<circle cx="757.0" cy="814.3" r="6.55"/>
<circle cx="779.5" cy="783.4" r="6.55"/>
<circle cx="771.1" cy="789.0" r="6.55"/>
<circle cx="770.2" cy="796.5" r="6.55"/>
<circle cx="765.0" cy="802.6" r="6.55"/>
<circle cx="773.9" cy="808.2" r="6.55"/>
<circle cx="791.7" cy="791.3" r="6.55"/>
<circle cx="787.5" cy="797.4" r="6.55"/>
<circle cx="806.7" cy="795.1" r="6.55"/>
<circle cx="801.1" cy="801.2" r="6.55"/>
<circle cx="818.2" cy="799.5" r="6.55"/>
<circle cx="846.1" cy="783.4" r="6.55"/>
<circle cx="839.5" cy="789.5" r="6.55"/>
<circle cx="829.2" cy="794.6" r="6.55"/>
<circle cx="837.2" cy="800.2" r="6.55"/>
<circle cx="840.5" cy="806.8" r="6.55"/>
<circle cx="884.6" cy="797.8" r="6.55"/>
<circle cx="930.5" cy="797.8" r="6.55"/>
<circle cx="936.4" cy="791.5" r="6.55"/>
<circle cx="996.1" cy="797.8" r="6.55"/>
<circle cx="1022.7" cy="797.8" r="6.55"/>
<circle cx="1040.9" cy="797.8" r="6.55"/>
<circle cx="1046.4" cy="791.5" r="6.55"/>
</g>
<circle cx="1054.5" cy="462.6" r="9.7" fill="#13928a"/>
<circle cx="552.7" cy="797.7" r="9.5" fill="#13928a"/>
<path d="M1054.2 361.8L1054.2 454.2M1048.8 445.2L1054.2 454.2L1059.6000000000001 445.2" fill="none" stroke="#000" stroke-width="2.1" stroke-linejoin="miter" stroke-linecap="butt"/>
<path d="M552.8 697.0L552.8 789.7M547.4 780.7L552.8 789.7L558.1999999999999 780.7" fill="none" stroke="#000" stroke-width="2.1" stroke-linejoin="miter" stroke-linecap="butt"/>
<path d="M1932.5 529.0L1932.5 470.4M1927.1 479.4L1932.5 470.4L1937.9 479.4" fill="none" stroke="#000" stroke-width="2.1" stroke-linejoin="miter" stroke-linecap="butt"/>
<path d="M1046.4 864.7L1046.4 805.7M1041.0 814.7L1046.4 805.7L1051.8000000000002 814.7" fill="none" stroke="#000" stroke-width="2.1" stroke-linejoin="miter" stroke-linecap="butt"/>
<text y="91.70" font-size="77.5" font-weight="bold" fill="#0d0d09"><tspan x="35.91" textLength="209.34" lengthAdjust="spacingAndGlyphs">Färre</tspan> <tspan x="265.34" textLength="391.82" lengthAdjust="spacingAndGlyphs">ukrainare</tspan> <tspan x="678.84" textLength="23.45" lengthAdjust="spacingAndGlyphs">i</tspan> <tspan x="722.50" textLength="396.30" lengthAdjust="spacingAndGlyphs">Vingåkers</tspan> <tspan x="1140.98" textLength="355.18" lengthAdjust="spacingAndGlyphs">kommun</tspan> <tspan x="1519.22" textLength="97.99" lengthAdjust="spacingAndGlyphs">än</tspan> <tspan x="1639.44" textLength="21.32" lengthAdjust="spacingAndGlyphs">i</tspan> <tspan x="1680.74" textLength="154.07" lengthAdjust="spacingAndGlyphs">juni</tspan></text>
<text y="208.90" font-size="52" font-weight="normal" fill="#0d0d09"><tspan x="35.23" textLength="248.94" lengthAdjust="spacingAndGlyphs">Flyktingar</tspan> <tspan x="301.40" textLength="103.37" lengthAdjust="spacingAndGlyphs">från</tspan> <tspan x="420.62" textLength="197.90" lengthAdjust="spacingAndGlyphs">Ukraina</tspan> <tspan x="633.14" textLength="84.76" lengthAdjust="spacingAndGlyphs">per</tspan> <tspan x="732.36" textLength="61.23" lengthAdjust="spacingAndGlyphs">10</tspan> <tspan x="808.06" textLength="94.87" lengthAdjust="spacingAndGlyphs">000</tspan> <tspan x="915.13" textLength="223.08" lengthAdjust="spacingAndGlyphs">invånare</tspan> <tspan x="1152.83" textLength="91.14" lengthAdjust="spacingAndGlyphs">och</tspan> <tspan x="1258.50" textLength="229.86" lengthAdjust="spacingAndGlyphs">kommun</tspan></text>
<text x="158.90" y="478.10" font-size="41" font-weight="normal" fill="#0d0d09" textLength="74.18" lengthAdjust="spacingAndGlyphs">juni</text>
<text x="34.99" y="813.10" font-size="41" font-weight="normal" fill="#0d0d09" textLength="196.12" lengthAdjust="spacingAndGlyphs">december</text>
<text y="302.70" font-size="46" font-weight="normal" fill="#000"><tspan x="989.85" textLength="94.70" lengthAdjust="spacingAndGlyphs">Juni:</tspan> <tspan x="1095.13" textLength="80.35" lengthAdjust="spacingAndGlyphs">102</tspan> <tspan x="1185.64" textLength="211.20" lengthAdjust="spacingAndGlyphs">ukrainska</tspan> <tspan x="1410.00" textLength="201.58" lengthAdjust="spacingAndGlyphs">flyktingar</tspan></text>
<text y="352.80" font-size="46" font-weight="normal" fill="#000"><tspan x="989.05" textLength="93.64" lengthAdjust="spacingAndGlyphs">(113</tspan> <tspan x="1095.22" textLength="70.66" lengthAdjust="spacingAndGlyphs">per</tspan> <tspan x="1180.15" textLength="51.94" lengthAdjust="spacingAndGlyphs">10</tspan> <tspan x="1244.29" textLength="79.56" lengthAdjust="spacingAndGlyphs">000</tspan> <tspan x="1334.79" textLength="204.18" lengthAdjust="spacingAndGlyphs">invånare)</tspan></text>
<text y="637.30" font-size="46" font-weight="normal" fill="#000"><tspan x="487.73" textLength="237.38" lengthAdjust="spacingAndGlyphs">December:</tspan>  <tspan x="746.58" textLength="47.73" lengthAdjust="spacingAndGlyphs">31</tspan> <tspan x="812.53" textLength="211.41" lengthAdjust="spacingAndGlyphs">ukrainska</tspan> <tspan x="1036.00" textLength="202.67" lengthAdjust="spacingAndGlyphs">flyktingar</tspan></text>
<text y="687.00" font-size="46" font-weight="normal" fill="#000"><tspan x="487.15" textLength="67.76" lengthAdjust="spacingAndGlyphs">(34</tspan> <tspan x="567.53" textLength="70.35" lengthAdjust="spacingAndGlyphs">per</tspan> <tspan x="652.54" textLength="52.17" lengthAdjust="spacingAndGlyphs">10</tspan> <tspan x="715.99" textLength="79.56" lengthAdjust="spacingAndGlyphs">000</tspan> <tspan x="807.69" textLength="203.87" lengthAdjust="spacingAndGlyphs">invånare)</tspan></text>
<text y="564.00" font-size="34.3" font-weight="normal" fill="#000"><tspan x="1381.71" textLength="126.82" lengthAdjust="spacingAndGlyphs">Högsby</tspan> <tspan x="1517.76" textLength="162.29" lengthAdjust="spacingAndGlyphs">kommun:</tspan> <tspan x="1686.67" textLength="61.27" lengthAdjust="spacingAndGlyphs">250</tspan> <tspan x="1759.13" textLength="54.28" lengthAdjust="spacingAndGlyphs">per</tspan> <tspan x="1824.14" textLength="40.64" lengthAdjust="spacingAndGlyphs">10</tspan> <tspan x="1873.52" textLength="61.27" lengthAdjust="spacingAndGlyphs">000</tspan> <tspan x="1943.47" textLength="49.29" lengthAdjust="spacingAndGlyphs">inv</tspan></text>
<text y="898.90" font-size="34.3" font-weight="normal" fill="#000"><tspan x="982.02" textLength="149.56" lengthAdjust="spacingAndGlyphs">Ragunda</tspan> <tspan x="1141.79" textLength="160.68" lengthAdjust="spacingAndGlyphs">kommun:</tspan> <tspan x="1311.18" textLength="57.27" lengthAdjust="spacingAndGlyphs">111</tspan> <tspan x="1381.37" textLength="54.48" lengthAdjust="spacingAndGlyphs">per</tspan> <tspan x="1446.20" textLength="41.83" lengthAdjust="spacingAndGlyphs">10</tspan> <tspan x="1496.50" textLength="61.81" lengthAdjust="spacingAndGlyphs">000</tspan> <tspan x="1568.63" textLength="48.03" lengthAdjust="spacingAndGlyphs">inv</tspan></text>
<text y="1137.60" font-size="36.2" font-weight="normal" fill="#000"><tspan x="7.81" textLength="95.35" lengthAdjust="spacingAndGlyphs">Källa:</tspan> <tspan x="111.70" textLength="311.96" lengthAdjust="spacingAndGlyphs">Migrationsverket.</tspan> <tspan x="433.70" textLength="156.86" lengthAdjust="spacingAndGlyphs">Personer</tspan> <tspan x="602.86" textLength="77.50" lengthAdjust="spacingAndGlyphs">med</tspan> <tspan x="692.68" textLength="101.42" lengthAdjust="spacingAndGlyphs">skydd</tspan> <tspan x="804.78" textLength="105.78" lengthAdjust="spacingAndGlyphs">under</tspan> <tspan x="922.88" textLength="360.16" lengthAdjust="spacingAndGlyphs">massflyktsdirektivet.</tspan></text>
<text x="320.41" y="1050.2" font-size="41" fill="#0d0d09" textLength="24.52" lengthAdjust="spacingAndGlyphs">0</text>
<text x="630.02" y="1050.2" font-size="41" fill="#0d0d09" textLength="46.43" lengthAdjust="spacingAndGlyphs">50</text>
<text x="936.53" y="1050.2" font-size="41" fill="#0d0d09" textLength="71.66" lengthAdjust="spacingAndGlyphs">100</text>
<text x="1257.17" y="1050.2" font-size="41" fill="#0d0d09" textLength="71.82" lengthAdjust="spacingAndGlyphs">150</text>
<text x="1576.70" y="1050.2" font-size="41" fill="#0d0d09" textLength="72.31" lengthAdjust="spacingAndGlyphs">200</text>
<text x="1897.88" y="1050.2" font-size="41" fill="#0d0d09" textLength="71.10" lengthAdjust="spacingAndGlyphs">250</text>

<g transform="translate(1736,1090)">
<defs>
<clipPath id="lb"><path d="M10.5 7.8H47.6Q51.9 7.8 51.9 12.1V43.5Q51.9 45.6 50.2 46.9L32.6 61.5Q31.2 62.6 30.2 61.2Q28.3 58.8 27.6 55.6Q27 53.2 24.4 52.6L10.3 48.6Q6.2 47.5 6.2 43.4V12.1Q6.2 7.8 10.5 7.8Z"/></clipPath>
<linearGradient id="sg0" gradientUnits="userSpaceOnUse" x1="16.0" y1="40.0" x2="30.0" y2="54.0"><stop offset="0" stop-color="#355f80" stop-opacity="0.6"/><stop offset="1" stop-color="#3b7a8a" stop-opacity="0.0"/></linearGradient>
<linearGradient id="sg1" gradientUnits="userSpaceOnUse" x1="24.9" y1="38.0" x2="38.9" y2="52.0"><stop offset="0" stop-color="#355f80" stop-opacity="0.6"/><stop offset="1" stop-color="#3b7a8a" stop-opacity="0.0"/></linearGradient>
<linearGradient id="sg2" gradientUnits="userSpaceOnUse" x1="33.8" y1="41.6" x2="47.8" y2="55.6"><stop offset="0" stop-color="#355f80" stop-opacity="0.6"/><stop offset="1" stop-color="#3b7a8a" stop-opacity="0.0"/></linearGradient>
<linearGradient id="sg3" gradientUnits="userSpaceOnUse" x1="42.7" y1="31.9" x2="56.7" y2="45.9"><stop offset="0" stop-color="#355f80" stop-opacity="0.6"/><stop offset="1" stop-color="#3b7a8a" stop-opacity="0.0"/></linearGradient>
</defs>
<path d="M10.5 7.8H47.6Q51.9 7.8 51.9 12.1V43.5Q51.9 45.6 50.2 46.9L32.6 61.5Q31.2 62.6 30.2 61.2Q28.3 58.8 27.6 55.6Q27 53.2 24.4 52.6L10.3 48.6Q6.2 47.5 6.2 43.4V12.1Q6.2 7.8 10.5 7.8Z" fill="#358e85"/>
<g clip-path="url(#lb)">
<polygon points="18.5,30.7 48.5,60.7 44.5,74.1 14.5,44.1" fill="url(#sg0)"/>
<polygon points="27.4,26.6 57.4,56.5 53.4,74.1 23.4,44.1" fill="url(#sg1)"/>
<polygon points="36.3,33.8 66.3,63.8 62.2,74.1 32.2,44.1" fill="url(#sg2)"/>
<polygon points="45.2,14.5 75.2,44.5 71.2,74.1 41.1,44.1" fill="url(#sg3)"/>
</g>
<rect x="12.9" y="29.1" width="6.2" height="15.6" rx="3.1" fill="#fff"/>
<rect x="21.8" y="25.0" width="6.2" height="19.7" rx="3.1" fill="#fff"/>
<rect x="30.7" y="32.3" width="6.2" height="12.4" rx="3.1" fill="#fff"/>
<rect x="39.6" y="12.9" width="6.2" height="23.4" rx="3.1" fill="#fff"/>
<rect x="39.6" y="38.5" width="6.2" height="6.2" rx="3.1" fill="#fff"/>
</g>
<text x="1804.55" y="1131.2" font-size="40.5" font-weight="normal" fill="#3a8f88" stroke="#3a8f88" stroke-width="1.3" stroke-linejoin="round" textLength="219.7" lengthAdjust="spacingAndGlyphs" style="font-family:'Liberation Sans',sans-serif">Newsworthy</text>

</svg>
</body></html>
